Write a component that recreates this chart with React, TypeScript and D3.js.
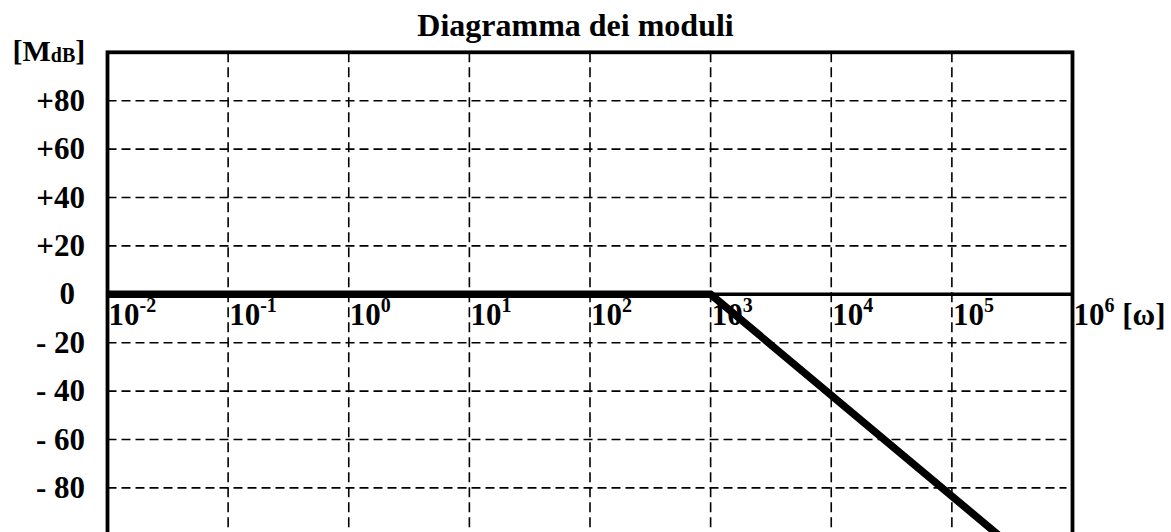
import React from "react";
import * as d3 from "d3";

const title = "Diagramma dei moduli";
const yAxisLabel = "M";
const yAxisSub = "dB";
const xAxisUnit = "[ω]";

// y grid values (dB) and their labels
const dbValues = [80, 60, 40, 20, 0, -20, -40, -60, -80];
const dbLabels = ["+80", "+60", "+40", "+20", "0", "- 20", "- 40", "- 60", "- 80"];

// x decades (exponents of 10)
const decadeExponents = [-2, -1, 0, 1, 2, 3, 4, 5, 6];

// asymptotic Bode magnitude (omega, dB)
const curveOmega = [0.01, 1000, 250000];
const curveDb = [0, 0, -100];

const W = 1171;
const H = 532;
const FONT = "'Liberation Serif', 'Times New Roman', serif";

export default function App() {
  const x = d3.scaleLog().domain([1e-2, 1e6]).range([107.5, 1072.5]);
  const y = d3.scaleLinear().domain([-100, 100]).range([536.3, 52.3]);

  const curve = curveOmega.map((w, i) => [w, curveDb[i]] as [number, number]);
  const line = d3
    .line<[number, number]>()
    .x((d) => x(d[0]))
    .y((d) => y(d[1]));

  const left = x(1e-2);
  const right = x(1e6);
  const top = y(100);
  const bottom = y(-100);

  return (
    <div style={{ position: "fixed", left: 0, top: 0, width: W, height: H, background: "#fff" }}>
      <svg width={W} height={H} style={{ display: "block" }} fontFamily={FONT} fontWeight="bold">
        <rect width={W} height={H} fill="#fff" />
        {/* title */}
        <text x={575.5} y={36} textAnchor="middle" fontSize={32} fill="#000">
          {title}
        </text>

        {/* horizontal dashed grid */}
        {dbValues
          .filter((v) => v !== 0)
          .map((v) => (
            <line
              key={"h" + v}
              x1={left}
              x2={right - 6}
              y1={y(v)}
              y2={y(v)}
              stroke="#000"
              strokeWidth={1.6}
              strokeDasharray="9,5"
            />
          ))}
        {/* vertical dashed grid */}
        {decadeExponents.slice(1, -1).map((e) => (
          <line
            key={"v" + e}
            x1={x(Math.pow(10, e))}
            x2={x(Math.pow(10, e))}
            y1={top}
            y2={bottom}
            stroke="#000"
            strokeWidth={1.6}
            strokeDasharray="10,5"
          />
        ))}

        {/* zero axis */}
        <line x1={left} x2={right} y1={y(0)} y2={y(0)} stroke="#000" strokeWidth={3.5} />

        {/* frame */}
        <rect
          x={left}
          y={top}
          width={right - left}
          height={bottom - top}
          fill="none"
          stroke="#000"
          strokeWidth={3.8}
        />

        {/* curve */}
        <path d={line(curve) || ""} fill="none" stroke="#000" strokeWidth={7.5} strokeLinejoin="miter" />

        {/* y labels */}
        {dbValues.map((v, i) => (
          <text
            key={"yl" + v}
            x={v === 0 ? 75 : 85}
            y={y(v) + 10}
            textAnchor="end"
            fontSize={31}
            fill="#000"
          >
            {dbLabels[i]}
          </text>
        ))}

        {/* y axis title */}
        <text x={12.5} y={61} fontSize={30} fill="#000">
          [{yAxisLabel}
          <tspan fontSize={20} dy={1}>
            {yAxisSub}
          </tspan>
          <tspan dy={-1}>]</tspan>
        </text>

        {/* x labels */}
        {decadeExponents.map((e) => (
          <text key={"xl" + e} x={x(Math.pow(10, e)) + 1} y={325} fontSize={31} fill="#000">
            10
            <tspan fontSize={20} dy={-13}>
              {String(e)}
            </tspan>
            {e === 6 ? (
              <tspan dy={13} fontSize={31}>
                {" " + xAxisUnit}
              </tspan>
            ) : null}
          </text>
        ))}
      </svg>
    </div>
  );
}
